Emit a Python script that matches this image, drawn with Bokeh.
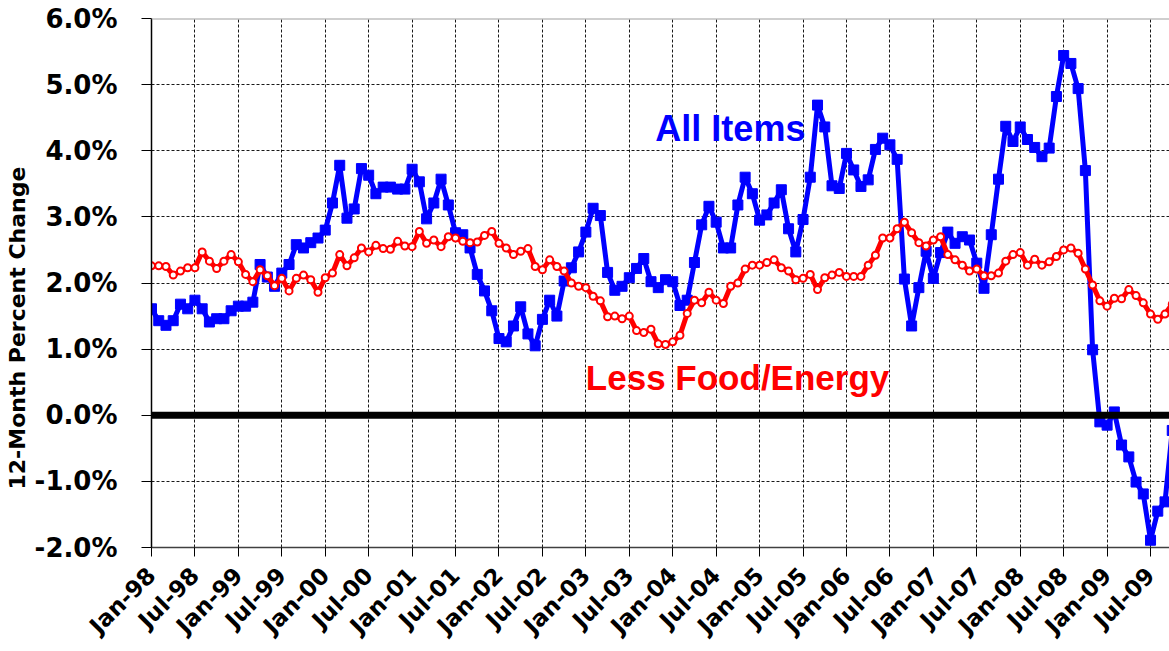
import math
from bokeh.plotting import figure
from bokeh.models import FixedTicker, PrintfTickFormatter, Span, Label, Title, Range1d, ColumnDataSource
from bokeh.embed import file_html
from bokeh.resources import INLINE

# ---------------- data ----------------
tick_labels = ["Jan-98", "Jul-98", "Jan-99", "Jul-99", "Jan-00", "Jul-00",
               "Jan-01", "Jul-01", "Jan-02", "Jul-02", "Jan-03", "Jul-03",
               "Jan-04", "Jul-04", "Jan-05", "Jul-05", "Jan-06", "Jul-06",
               "Jan-07", "Jul-07", "Jan-08", "Jul-08", "Jan-09", "Jul-09"]

# 12-month percent change, monthly Jan-98 .. Oct-09
all_items = [
    1.61, 1.43, 1.36, 1.43, 1.68, 1.61, 1.74, 1.61, 1.41, 1.46, 1.46, 1.58,
    1.65, 1.65, 1.71, 2.28, 2.09, 1.95, 2.15, 2.28, 2.58, 2.53, 2.61, 2.68,
    2.80, 3.21, 3.78, 2.98, 3.12, 3.73, 3.63, 3.35, 3.45, 3.45, 3.42, 3.42,
    3.72, 3.53, 2.97, 3.21, 3.57, 3.18, 2.76, 2.73, 2.53, 2.13, 1.88, 1.58,
    1.16, 1.11, 1.35, 1.64, 1.23, 1.05, 1.45, 1.74, 1.50, 2.03, 2.23, 2.47,
    2.77, 3.13, 3.02, 2.16, 1.89, 1.95, 2.08, 2.22, 2.37, 2.02, 1.93, 2.05,
    2.02, 1.66, 1.74, 2.31, 2.88, 3.16, 2.92, 2.53, 2.53, 3.18, 3.60, 3.35,
    2.95, 3.03, 3.21, 3.41, 2.82, 2.47, 2.96, 3.60, 4.69, 4.36, 3.47, 3.43,
    3.96, 3.71, 3.46, 3.56, 4.02, 4.19, 4.09, 3.87, 2.06, 1.35, 1.93, 2.48,
    2.07, 2.46, 2.77, 2.60, 2.70, 2.65, 2.30, 1.92, 2.73, 3.57, 4.37, 4.14,
    4.36, 4.17, 4.05, 3.91, 4.04, 4.82, 5.44, 5.32, 4.94, 3.70, 0.99, -0.10,
    -0.15, 0.05, -0.45, -0.63, -1.01, -1.19, -1.89, -1.45, -1.31, -0.23]

less_food_energy = [
    2.26, 2.26, 2.25, 2.12, 2.18, 2.23, 2.23, 2.47, 2.33, 2.22, 2.33, 2.43,
    2.32, 2.13, 2.02, 2.20, 2.11, 1.96, 2.07, 1.88, 2.07, 2.12, 2.05, 1.86,
    2.08, 2.15, 2.43, 2.26, 2.38, 2.53, 2.47, 2.57, 2.52, 2.51, 2.63, 2.56,
    2.55, 2.78, 2.60, 2.65, 2.55, 2.70, 2.68, 2.63, 2.61, 2.62, 2.72, 2.78,
    2.60, 2.53, 2.43, 2.48, 2.52, 2.25, 2.20, 2.35, 2.25, 2.18, 2.00, 1.95,
    1.93, 1.80, 1.73, 1.49, 1.50, 1.46, 1.50, 1.28, 1.25, 1.30, 1.08, 1.07,
    1.11, 1.21, 1.54, 1.74, 1.70, 1.86, 1.74, 1.69, 1.95, 2.00, 2.21, 2.27,
    2.27, 2.31, 2.35, 2.23, 2.18, 2.05, 2.07, 2.13, 1.90, 2.08, 2.12, 2.16,
    2.10, 2.10, 2.10, 2.27, 2.42, 2.68, 2.68, 2.82, 2.92, 2.76, 2.61, 2.56,
    2.65, 2.70, 2.43, 2.35, 2.27, 2.18, 2.21, 2.11, 2.11, 2.15, 2.33, 2.43,
    2.46, 2.27, 2.36, 2.27, 2.32, 2.40, 2.50, 2.53, 2.45, 2.21, 1.97, 1.73,
    1.65, 1.77, 1.76, 1.90, 1.81, 1.70, 1.53, 1.45, 1.53, 1.68]

month_index = list(range(len(all_items)))
y_ticks = [-2, -1, 0, 1, 2, 3, 4, 5, 6]

# ---------------- figure ----------------
p = figure(width=1169, height=650, output_backend="svg", toolbar_location=None,
           x_range=Range1d(0, 140.62), y_range=Range1d(-2, 6),
           min_border_left=151, min_border_right=0, min_border_top=18,
           min_border_bottom=101)
p.outline_line_color = None
p.background_fill_color = "white"
p.border_fill_color = "white"

src = ColumnDataSource(dict(x=month_index, a=all_items, c=less_food_energy))

# axes
tick_pos = [6 * k for k in range(len(tick_labels))]
p.xaxis.ticker = FixedTicker(ticks=tick_pos)
p.xaxis.major_label_overrides = {t: lab for t, lab in zip(tick_pos, tick_labels)}
p.xaxis.major_label_orientation = math.pi / 4
p.xaxis.major_label_text_font = "DejaVu Sans"
p.xaxis.major_label_text_font_style = "bold"
p.xaxis.major_label_text_font_size = "23px"
p.xaxis.major_label_text_color = "black"
p.xaxis.major_label_standoff = 15
p.xaxis.major_tick_out = 9
p.xaxis.major_tick_in = 0
p.xaxis.minor_tick_line_color = None
p.xaxis.axis_line_color = "#404040"
p.xaxis.axis_line_width = 1.5
p.xaxis.major_tick_line_color = "black"

p.yaxis.ticker = FixedTicker(ticks=y_ticks)
p.yaxis.formatter = PrintfTickFormatter(format="%.1f%%")
p.yaxis.major_label_text_font = "DejaVu Sans"
p.yaxis.major_label_text_font_style = "bold"
p.yaxis.major_label_text_font_size = "26px"
p.yaxis.major_label_text_color = "black"
p.yaxis.major_label_standoff = 24
p.yaxis.major_tick_out = 10
p.yaxis.major_tick_in = 0
p.yaxis.minor_tick_line_color = None
p.yaxis.axis_line_color = "black"
p.yaxis.axis_line_width = 1.5
p.yaxis.major_tick_line_color = "black"

# y axis title (placed lower than centre, as in the reference)
ytitle = Title(text="12-Month Percent Change", align="left", offset=58,
               text_font="DejaVu Sans", text_font_style="bold",
               text_font_size="22px", text_color="black", standoff=4)
p.add_layout(ytitle, "left")

# grid
for g in (p.xgrid, p.ygrid):
    g.grid_line_color = "black"
    g.grid_line_dash = "3 2"
    g.grid_line_width = 1
    g.grid_line_alpha = 0.9

# top border
p.add_layout(Span(location=6, dimension="width", line_color="#a0a0a0", line_width=2))
# zero line
p.add_layout(Span(location=0, dimension="width", line_color="black", line_width=7))

# series
p.line("x", "a", source=src, line_color="#0000FF", line_width=5)
p.scatter("x", "a", source=src, marker="square", size=10,
          fill_color="#0000FF", line_color="#0000FF")

p.line("x", "c", source=src, line_color="#FF0000", line_width=5)
p.scatter("x", "c", source=src, marker="circle", size=7,
          fill_color="white", line_color="#FF0000", line_width=2)

# series labels
p.add_layout(Label(x=69.6, y=4.33, text="All Items", text_color="#0000FF",
                   text_font="Liberation Sans", text_font_style="bold",
                   text_font_size="36px", text_baseline="alphabetic"))
p.add_layout(Label(x=60, y=0.57, text="Less Food/Energy", text_color="#FF0000",
                   text_font="Liberation Sans", text_font_style="bold",
                   text_font_size="35px", text_baseline="alphabetic"))

open("out.html", "w").write(file_html(p, INLINE))
